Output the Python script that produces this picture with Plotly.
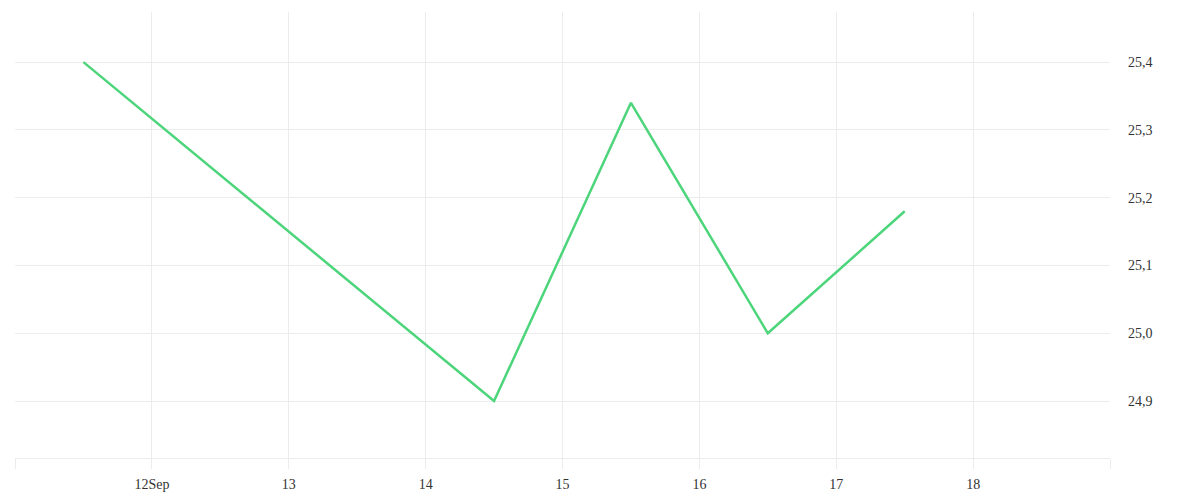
import plotly.graph_objects as go

# daily readings, one per day at noon
dates = ["2023-09-11 12:00", "2023-09-14 12:00", "2023-09-15 12:00",
         "2023-09-16 12:00", "2023-09-17 12:00"]
values = [25.40, 24.90, 25.34, 25.00, 25.18]

tick_days = ["2023-09-11", "2023-09-12", "2023-09-13", "2023-09-14", "2023-09-15",
             "2023-09-16", "2023-09-17", "2023-09-18", "2023-09-19"]
tick_labels = ["", "12Sep", "13", "14", "15", "16", "17", "18", ""]

grid = "#ececec"

fig = go.Figure()
fig.add_trace(go.Scatter(x=dates, y=values, mode="lines",
                         line=dict(color="#4cd57a", width=2.5)))

# page body has an 8px margin, so the figure is a bit smaller than the window
fig.update_layout(
    width=1192, height=492,
    margin=dict(l=7, r=90, t=4, b=42),
    plot_bgcolor="white", paper_bgcolor="white",
    showlegend=False,
    separators=",.",
    font=dict(family="Liberation Serif, Times New Roman, serif", size=14, color="#333333"),
    xaxis=dict(
        type="date", range=["2023-09-11", "2023-09-19"],
        tickvals=tick_days, ticktext=tick_labels,
        showgrid=True, gridcolor=grid, gridwidth=1,
        ticks="outside", ticklen=10, tickcolor=grid,
        showline=True, linecolor=grid, linewidth=1,
        zeroline=False, ticklabelstandoff=3,
    ),
    yaxis=dict(
        side="right", range=[24.816, 25.474],
        tickvals=[24.9, 25.0, 25.1, 25.2, 25.3, 25.4], tickformat=".1f",
        showgrid=True, gridcolor=grid, gridwidth=1,
        ticks="", zeroline=False, showline=False,
        ticklabelstandoff=17,
    ),
)

fig.write_html("out.html")
